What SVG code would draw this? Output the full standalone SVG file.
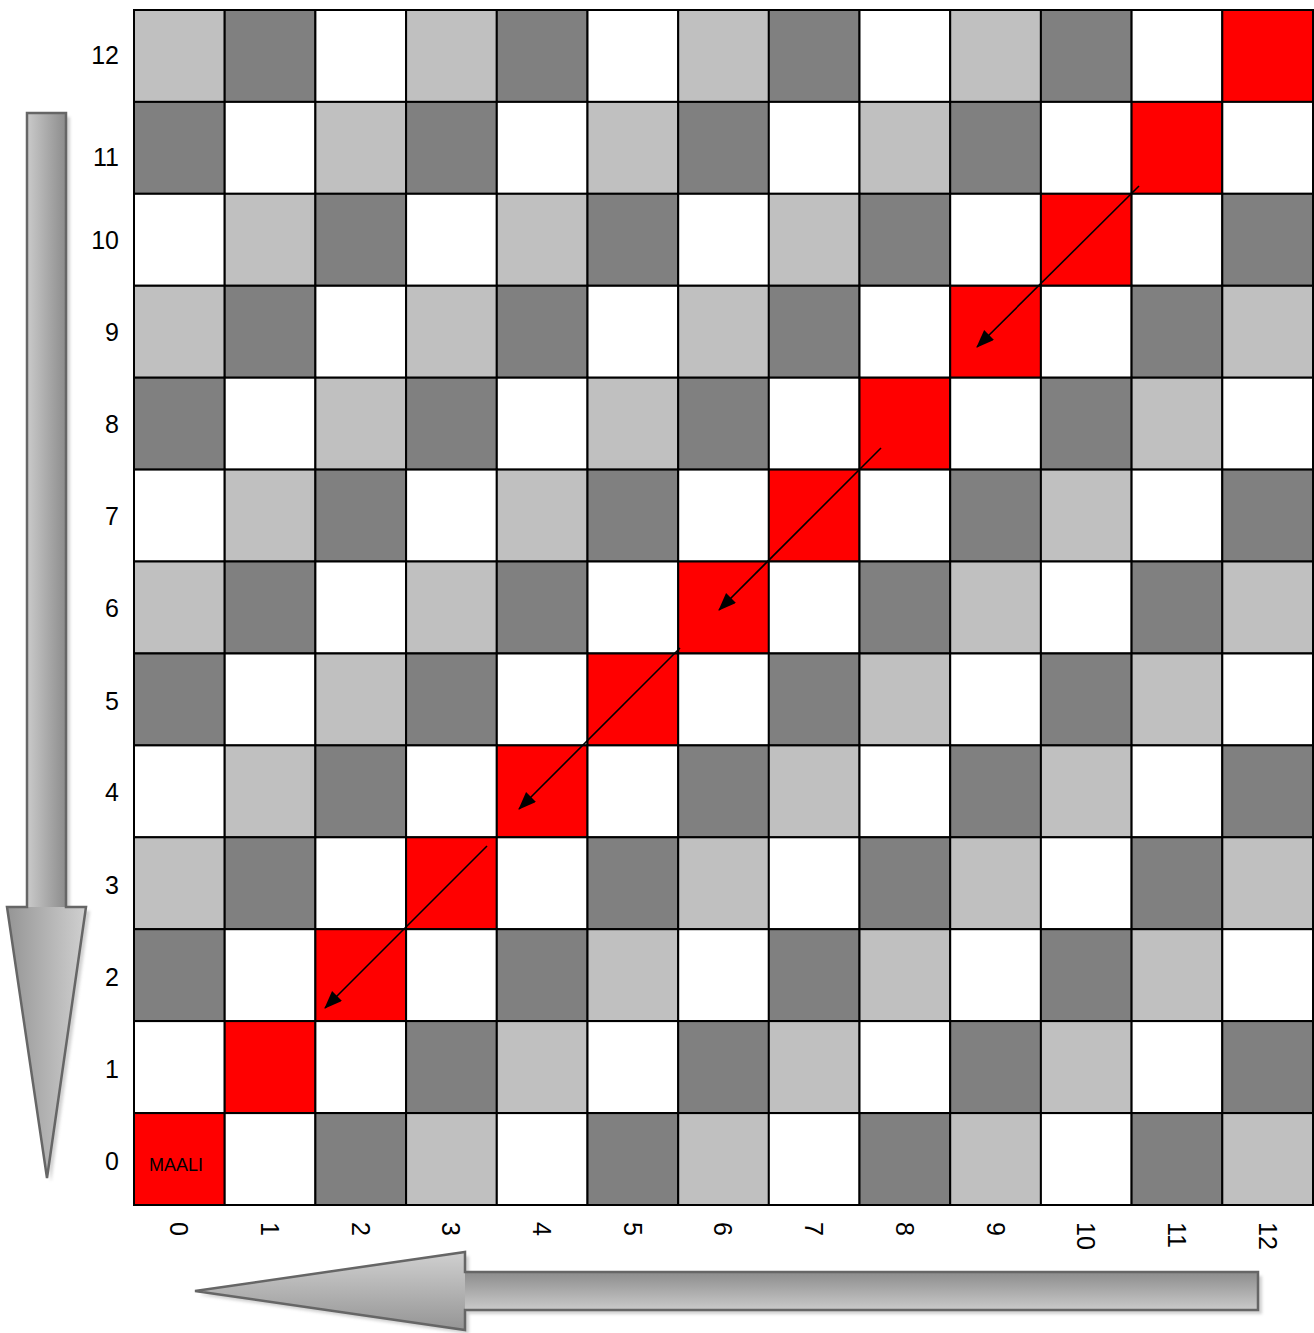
<svg xmlns="http://www.w3.org/2000/svg" width="1314" height="1333" viewBox="0 0 1314 1333">
<style>
.l{fill:#C0C0C0}.d{fill:#808080}.w{fill:#FFFFFF}.r{fill:#FF0000}
.c rect{stroke:#000;stroke-width:2}
.lab{font-family:"Liberation Sans",Arial,sans-serif;font-size:25px;fill:#000}
.conn line{stroke:#000;stroke-width:1.6;marker-end:url(#ah)}
.outline{fill:none;stroke:#666;stroke-width:2.5;stroke-linejoin:miter}
</style>
<defs>
<marker id="ah" markerUnits="userSpaceOnUse" markerWidth="20" markerHeight="16" refX="17" refY="7" orient="auto"><path d="M0,0 L18,7 L0,14 Z" fill="#000"/></marker>
<linearGradient id="vs" x1="0" y1="0" x2="1" y2="0"><stop offset="0" stop-color="#cacaca"/><stop offset="1" stop-color="#8c8c8c"/></linearGradient>
<linearGradient id="vh" x1="0" y1="0" x2="1" y2="0"><stop offset="0" stop-color="#959595"/><stop offset="1" stop-color="#d0d0d0"/></linearGradient>
<linearGradient id="hs" x1="0" y1="0" x2="0" y2="1"><stop offset="0" stop-color="#8c8c8c"/><stop offset="1" stop-color="#cacaca"/></linearGradient>
<linearGradient id="hh" x1="0" y1="0" x2="0" y2="1"><stop offset="0" stop-color="#d0d0d0"/><stop offset="1" stop-color="#959595"/></linearGradient>
<filter id="sh" x="-20%" y="-20%" width="140%" height="140%"><feGaussianBlur stdDeviation="1.5"/></filter>
</defs>
<rect width="1314" height="1333" fill="#fff"/>

<g id="board" class="c">
<g id="cell-12-0"><rect class="l" x="134" y="10" width="90.7" height="91.9"/></g>
<g id="cell-12-1"><rect class="d" x="224.7" y="10" width="90.7" height="91.9"/></g>
<g id="cell-12-2"><rect class="w" x="315.4" y="10" width="90.7" height="91.9"/></g>
<g id="cell-12-3"><rect class="l" x="406.1" y="10" width="90.7" height="91.9"/></g>
<g id="cell-12-4"><rect class="d" x="496.8" y="10" width="90.7" height="91.9"/></g>
<g id="cell-12-5"><rect class="w" x="587.5" y="10" width="90.7" height="91.9"/></g>
<g id="cell-12-6"><rect class="l" x="678.2" y="10" width="90.7" height="91.9"/></g>
<g id="cell-12-7"><rect class="d" x="768.8" y="10" width="90.7" height="91.9"/></g>
<g id="cell-12-8"><rect class="w" x="859.5" y="10" width="90.7" height="91.9"/></g>
<g id="cell-12-9"><rect class="l" x="950.2" y="10" width="90.7" height="91.9"/></g>
<g id="cell-12-10"><rect class="d" x="1040.9" y="10" width="90.7" height="91.9"/></g>
<g id="cell-12-11"><rect class="w" x="1131.6" y="10" width="90.7" height="91.9"/></g>
<g id="cell-12-12"><rect class="r" x="1222.3" y="10" width="90.7" height="91.9"/></g>

<g id="cell-11-0"><rect class="d" x="134" y="101.9" width="90.7" height="91.9"/></g>
<g id="cell-11-1"><rect class="w" x="224.7" y="101.9" width="90.7" height="91.9"/></g>
<g id="cell-11-2"><rect class="l" x="315.4" y="101.9" width="90.7" height="91.9"/></g>
<g id="cell-11-3"><rect class="d" x="406.1" y="101.9" width="90.7" height="91.9"/></g>
<g id="cell-11-4"><rect class="w" x="496.8" y="101.9" width="90.7" height="91.9"/></g>
<g id="cell-11-5"><rect class="l" x="587.5" y="101.9" width="90.7" height="91.9"/></g>
<g id="cell-11-6"><rect class="d" x="678.2" y="101.9" width="90.7" height="91.9"/></g>
<g id="cell-11-7"><rect class="w" x="768.8" y="101.9" width="90.7" height="91.9"/></g>
<g id="cell-11-8"><rect class="l" x="859.5" y="101.9" width="90.7" height="91.9"/></g>
<g id="cell-11-9"><rect class="d" x="950.2" y="101.9" width="90.7" height="91.9"/></g>
<g id="cell-11-10"><rect class="w" x="1040.9" y="101.9" width="90.7" height="91.9"/></g>
<g id="cell-11-11"><rect class="r" x="1131.6" y="101.9" width="90.7" height="91.9"/></g>
<g id="cell-11-12"><rect class="w" x="1222.3" y="101.9" width="90.7" height="91.9"/></g>

<g id="cell-10-0"><rect class="w" x="134" y="193.8" width="90.7" height="91.9"/></g>
<g id="cell-10-1"><rect class="l" x="224.7" y="193.8" width="90.7" height="91.9"/></g>
<g id="cell-10-2"><rect class="d" x="315.4" y="193.8" width="90.7" height="91.9"/></g>
<g id="cell-10-3"><rect class="w" x="406.1" y="193.8" width="90.7" height="91.9"/></g>
<g id="cell-10-4"><rect class="l" x="496.8" y="193.8" width="90.7" height="91.9"/></g>
<g id="cell-10-5"><rect class="d" x="587.5" y="193.8" width="90.7" height="91.9"/></g>
<g id="cell-10-6"><rect class="w" x="678.2" y="193.8" width="90.7" height="91.9"/></g>
<g id="cell-10-7"><rect class="l" x="768.8" y="193.8" width="90.7" height="91.9"/></g>
<g id="cell-10-8"><rect class="d" x="859.5" y="193.8" width="90.7" height="91.9"/></g>
<g id="cell-10-9"><rect class="w" x="950.2" y="193.8" width="90.7" height="91.9"/></g>
<g id="cell-10-10"><rect class="r" x="1040.9" y="193.8" width="90.7" height="91.9"/></g>
<g id="cell-10-11"><rect class="w" x="1131.6" y="193.8" width="90.7" height="91.9"/></g>
<g id="cell-10-12"><rect class="d" x="1222.3" y="193.8" width="90.7" height="91.9"/></g>

<g id="cell-9-0"><rect class="l" x="134" y="285.8" width="90.7" height="91.9"/></g>
<g id="cell-9-1"><rect class="d" x="224.7" y="285.8" width="90.7" height="91.9"/></g>
<g id="cell-9-2"><rect class="w" x="315.4" y="285.8" width="90.7" height="91.9"/></g>
<g id="cell-9-3"><rect class="l" x="406.1" y="285.8" width="90.7" height="91.9"/></g>
<g id="cell-9-4"><rect class="d" x="496.8" y="285.8" width="90.7" height="91.9"/></g>
<g id="cell-9-5"><rect class="w" x="587.5" y="285.8" width="90.7" height="91.9"/></g>
<g id="cell-9-6"><rect class="l" x="678.2" y="285.8" width="90.7" height="91.9"/></g>
<g id="cell-9-7"><rect class="d" x="768.8" y="285.8" width="90.7" height="91.9"/></g>
<g id="cell-9-8"><rect class="w" x="859.5" y="285.8" width="90.7" height="91.9"/></g>
<g id="cell-9-9"><rect class="r" x="950.2" y="285.8" width="90.7" height="91.9"/></g>
<g id="cell-9-10"><rect class="w" x="1040.9" y="285.8" width="90.7" height="91.9"/></g>
<g id="cell-9-11"><rect class="d" x="1131.6" y="285.8" width="90.7" height="91.9"/></g>
<g id="cell-9-12"><rect class="l" x="1222.3" y="285.8" width="90.7" height="91.9"/></g>

<g id="cell-8-0"><rect class="d" x="134" y="377.7" width="90.7" height="91.9"/></g>
<g id="cell-8-1"><rect class="w" x="224.7" y="377.7" width="90.7" height="91.9"/></g>
<g id="cell-8-2"><rect class="l" x="315.4" y="377.7" width="90.7" height="91.9"/></g>
<g id="cell-8-3"><rect class="d" x="406.1" y="377.7" width="90.7" height="91.9"/></g>
<g id="cell-8-4"><rect class="w" x="496.8" y="377.7" width="90.7" height="91.9"/></g>
<g id="cell-8-5"><rect class="l" x="587.5" y="377.7" width="90.7" height="91.9"/></g>
<g id="cell-8-6"><rect class="d" x="678.2" y="377.7" width="90.7" height="91.9"/></g>
<g id="cell-8-7"><rect class="w" x="768.8" y="377.7" width="90.7" height="91.9"/></g>
<g id="cell-8-8"><rect class="r" x="859.5" y="377.7" width="90.7" height="91.9"/></g>
<g id="cell-8-9"><rect class="w" x="950.2" y="377.7" width="90.7" height="91.9"/></g>
<g id="cell-8-10"><rect class="d" x="1040.9" y="377.7" width="90.7" height="91.9"/></g>
<g id="cell-8-11"><rect class="l" x="1131.6" y="377.7" width="90.7" height="91.9"/></g>
<g id="cell-8-12"><rect class="w" x="1222.3" y="377.7" width="90.7" height="91.9"/></g>

<g id="cell-7-0"><rect class="w" x="134" y="469.6" width="90.7" height="91.9"/></g>
<g id="cell-7-1"><rect class="l" x="224.7" y="469.6" width="90.7" height="91.9"/></g>
<g id="cell-7-2"><rect class="d" x="315.4" y="469.6" width="90.7" height="91.9"/></g>
<g id="cell-7-3"><rect class="w" x="406.1" y="469.6" width="90.7" height="91.9"/></g>
<g id="cell-7-4"><rect class="l" x="496.8" y="469.6" width="90.7" height="91.9"/></g>
<g id="cell-7-5"><rect class="d" x="587.5" y="469.6" width="90.7" height="91.9"/></g>
<g id="cell-7-6"><rect class="w" x="678.2" y="469.6" width="90.7" height="91.9"/></g>
<g id="cell-7-7"><rect class="r" x="768.8" y="469.6" width="90.7" height="91.9"/></g>
<g id="cell-7-8"><rect class="w" x="859.5" y="469.6" width="90.7" height="91.9"/></g>
<g id="cell-7-9"><rect class="d" x="950.2" y="469.6" width="90.7" height="91.9"/></g>
<g id="cell-7-10"><rect class="l" x="1040.9" y="469.6" width="90.7" height="91.9"/></g>
<g id="cell-7-11"><rect class="w" x="1131.6" y="469.6" width="90.7" height="91.9"/></g>
<g id="cell-7-12"><rect class="d" x="1222.3" y="469.6" width="90.7" height="91.9"/></g>

<g id="cell-6-0"><rect class="l" x="134" y="561.5" width="90.7" height="91.9"/></g>
<g id="cell-6-1"><rect class="d" x="224.7" y="561.5" width="90.7" height="91.9"/></g>
<g id="cell-6-2"><rect class="w" x="315.4" y="561.5" width="90.7" height="91.9"/></g>
<g id="cell-6-3"><rect class="l" x="406.1" y="561.5" width="90.7" height="91.9"/></g>
<g id="cell-6-4"><rect class="d" x="496.8" y="561.5" width="90.7" height="91.9"/></g>
<g id="cell-6-5"><rect class="w" x="587.5" y="561.5" width="90.7" height="91.9"/></g>
<g id="cell-6-6"><rect class="r" x="678.2" y="561.5" width="90.7" height="91.9"/></g>
<g id="cell-6-7"><rect class="w" x="768.8" y="561.5" width="90.7" height="91.9"/></g>
<g id="cell-6-8"><rect class="d" x="859.5" y="561.5" width="90.7" height="91.9"/></g>
<g id="cell-6-9"><rect class="l" x="950.2" y="561.5" width="90.7" height="91.9"/></g>
<g id="cell-6-10"><rect class="w" x="1040.9" y="561.5" width="90.7" height="91.9"/></g>
<g id="cell-6-11"><rect class="d" x="1131.6" y="561.5" width="90.7" height="91.9"/></g>
<g id="cell-6-12"><rect class="l" x="1222.3" y="561.5" width="90.7" height="91.9"/></g>

<g id="cell-5-0"><rect class="d" x="134" y="653.5" width="90.7" height="91.9"/></g>
<g id="cell-5-1"><rect class="w" x="224.7" y="653.5" width="90.7" height="91.9"/></g>
<g id="cell-5-2"><rect class="l" x="315.4" y="653.5" width="90.7" height="91.9"/></g>
<g id="cell-5-3"><rect class="d" x="406.1" y="653.5" width="90.7" height="91.9"/></g>
<g id="cell-5-4"><rect class="w" x="496.8" y="653.5" width="90.7" height="91.9"/></g>
<g id="cell-5-5"><rect class="r" x="587.5" y="653.5" width="90.7" height="91.9"/></g>
<g id="cell-5-6"><rect class="w" x="678.2" y="653.5" width="90.7" height="91.9"/></g>
<g id="cell-5-7"><rect class="d" x="768.8" y="653.5" width="90.7" height="91.9"/></g>
<g id="cell-5-8"><rect class="l" x="859.5" y="653.5" width="90.7" height="91.9"/></g>
<g id="cell-5-9"><rect class="w" x="950.2" y="653.5" width="90.7" height="91.9"/></g>
<g id="cell-5-10"><rect class="d" x="1040.9" y="653.5" width="90.7" height="91.9"/></g>
<g id="cell-5-11"><rect class="l" x="1131.6" y="653.5" width="90.7" height="91.9"/></g>
<g id="cell-5-12"><rect class="w" x="1222.3" y="653.5" width="90.7" height="91.9"/></g>

<g id="cell-4-0"><rect class="w" x="134" y="745.4" width="90.7" height="91.9"/></g>
<g id="cell-4-1"><rect class="l" x="224.7" y="745.4" width="90.7" height="91.9"/></g>
<g id="cell-4-2"><rect class="d" x="315.4" y="745.4" width="90.7" height="91.9"/></g>
<g id="cell-4-3"><rect class="w" x="406.1" y="745.4" width="90.7" height="91.9"/></g>
<g id="cell-4-4"><rect class="r" x="496.8" y="745.4" width="90.7" height="91.9"/></g>
<g id="cell-4-5"><rect class="w" x="587.5" y="745.4" width="90.7" height="91.9"/></g>
<g id="cell-4-6"><rect class="d" x="678.2" y="745.4" width="90.7" height="91.9"/></g>
<g id="cell-4-7"><rect class="l" x="768.8" y="745.4" width="90.7" height="91.9"/></g>
<g id="cell-4-8"><rect class="w" x="859.5" y="745.4" width="90.7" height="91.9"/></g>
<g id="cell-4-9"><rect class="d" x="950.2" y="745.4" width="90.7" height="91.9"/></g>
<g id="cell-4-10"><rect class="l" x="1040.9" y="745.4" width="90.7" height="91.9"/></g>
<g id="cell-4-11"><rect class="w" x="1131.6" y="745.4" width="90.7" height="91.9"/></g>
<g id="cell-4-12"><rect class="d" x="1222.3" y="745.4" width="90.7" height="91.9"/></g>

<g id="cell-3-0"><rect class="l" x="134" y="837.3" width="90.7" height="91.9"/></g>
<g id="cell-3-1"><rect class="d" x="224.7" y="837.3" width="90.7" height="91.9"/></g>
<g id="cell-3-2"><rect class="w" x="315.4" y="837.3" width="90.7" height="91.9"/></g>
<g id="cell-3-3"><rect class="r" x="406.1" y="837.3" width="90.7" height="91.9"/></g>
<g id="cell-3-4"><rect class="w" x="496.8" y="837.3" width="90.7" height="91.9"/></g>
<g id="cell-3-5"><rect class="d" x="587.5" y="837.3" width="90.7" height="91.9"/></g>
<g id="cell-3-6"><rect class="l" x="678.2" y="837.3" width="90.7" height="91.9"/></g>
<g id="cell-3-7"><rect class="w" x="768.8" y="837.3" width="90.7" height="91.9"/></g>
<g id="cell-3-8"><rect class="d" x="859.5" y="837.3" width="90.7" height="91.9"/></g>
<g id="cell-3-9"><rect class="l" x="950.2" y="837.3" width="90.7" height="91.9"/></g>
<g id="cell-3-10"><rect class="w" x="1040.9" y="837.3" width="90.7" height="91.9"/></g>
<g id="cell-3-11"><rect class="d" x="1131.6" y="837.3" width="90.7" height="91.9"/></g>
<g id="cell-3-12"><rect class="l" x="1222.3" y="837.3" width="90.7" height="91.9"/></g>

<g id="cell-2-0"><rect class="d" x="134" y="929.2" width="90.7" height="91.9"/></g>
<g id="cell-2-1"><rect class="w" x="224.7" y="929.2" width="90.7" height="91.9"/></g>
<g id="cell-2-2"><rect class="r" x="315.4" y="929.2" width="90.7" height="91.9"/></g>
<g id="cell-2-3"><rect class="w" x="406.1" y="929.2" width="90.7" height="91.9"/></g>
<g id="cell-2-4"><rect class="d" x="496.8" y="929.2" width="90.7" height="91.9"/></g>
<g id="cell-2-5"><rect class="l" x="587.5" y="929.2" width="90.7" height="91.9"/></g>
<g id="cell-2-6"><rect class="w" x="678.2" y="929.2" width="90.7" height="91.9"/></g>
<g id="cell-2-7"><rect class="d" x="768.8" y="929.2" width="90.7" height="91.9"/></g>
<g id="cell-2-8"><rect class="l" x="859.5" y="929.2" width="90.7" height="91.9"/></g>
<g id="cell-2-9"><rect class="w" x="950.2" y="929.2" width="90.7" height="91.9"/></g>
<g id="cell-2-10"><rect class="d" x="1040.9" y="929.2" width="90.7" height="91.9"/></g>
<g id="cell-2-11"><rect class="l" x="1131.6" y="929.2" width="90.7" height="91.9"/></g>
<g id="cell-2-12"><rect class="w" x="1222.3" y="929.2" width="90.7" height="91.9"/></g>

<g id="cell-1-0"><rect class="w" x="134" y="1021.1" width="90.7" height="91.9"/></g>
<g id="cell-1-1"><rect class="r" x="224.7" y="1021.1" width="90.7" height="91.9"/></g>
<g id="cell-1-2"><rect class="w" x="315.4" y="1021.1" width="90.7" height="91.9"/></g>
<g id="cell-1-3"><rect class="d" x="406.1" y="1021.1" width="90.7" height="91.9"/></g>
<g id="cell-1-4"><rect class="l" x="496.8" y="1021.1" width="90.7" height="91.9"/></g>
<g id="cell-1-5"><rect class="w" x="587.5" y="1021.1" width="90.7" height="91.9"/></g>
<g id="cell-1-6"><rect class="d" x="678.2" y="1021.1" width="90.7" height="91.9"/></g>
<g id="cell-1-7"><rect class="l" x="768.8" y="1021.1" width="90.7" height="91.9"/></g>
<g id="cell-1-8"><rect class="w" x="859.5" y="1021.1" width="90.7" height="91.9"/></g>
<g id="cell-1-9"><rect class="d" x="950.2" y="1021.1" width="90.7" height="91.9"/></g>
<g id="cell-1-10"><rect class="l" x="1040.9" y="1021.1" width="90.7" height="91.9"/></g>
<g id="cell-1-11"><rect class="w" x="1131.6" y="1021.1" width="90.7" height="91.9"/></g>
<g id="cell-1-12"><rect class="d" x="1222.3" y="1021.1" width="90.7" height="91.9"/></g>

<g id="cell-0-0"><rect class="r" x="134" y="1113.1" width="90.7" height="91.9"/><text x="149" y="1171" font-family="'Liberation Sans',Arial,sans-serif" font-size="18" fill="#000">MAALI</text></g>
<g id="cell-0-1"><rect class="w" x="224.7" y="1113.1" width="90.7" height="91.9"/></g>
<g id="cell-0-2"><rect class="d" x="315.4" y="1113.1" width="90.7" height="91.9"/></g>
<g id="cell-0-3"><rect class="l" x="406.1" y="1113.1" width="90.7" height="91.9"/></g>
<g id="cell-0-4"><rect class="w" x="496.8" y="1113.1" width="90.7" height="91.9"/></g>
<g id="cell-0-5"><rect class="d" x="587.5" y="1113.1" width="90.7" height="91.9"/></g>
<g id="cell-0-6"><rect class="l" x="678.2" y="1113.1" width="90.7" height="91.9"/></g>
<g id="cell-0-7"><rect class="w" x="768.8" y="1113.1" width="90.7" height="91.9"/></g>
<g id="cell-0-8"><rect class="d" x="859.5" y="1113.1" width="90.7" height="91.9"/></g>
<g id="cell-0-9"><rect class="l" x="950.2" y="1113.1" width="90.7" height="91.9"/></g>
<g id="cell-0-10"><rect class="w" x="1040.9" y="1113.1" width="90.7" height="91.9"/></g>
<g id="cell-0-11"><rect class="d" x="1131.6" y="1113.1" width="90.7" height="91.9"/></g>
<g id="cell-0-12"><rect class="l" x="1222.3" y="1113.1" width="90.7" height="91.9"/></g>
</g>

<g id="row-labels" class="lab" text-anchor="end">
<text x="119" y="64">12</text>
<text x="119" y="166">11</text>
<text x="119" y="249">10</text>
<text x="119" y="341">9</text>
<text x="119" y="433">8</text>
<text x="119" y="525">7</text>
<text x="119" y="617">6</text>
<text x="119" y="710">5</text>
<text x="119" y="801">4</text>
<text x="119" y="894">3</text>
<text x="119" y="986">2</text>
<text x="119" y="1078">1</text>
<text x="119" y="1170">0</text>
</g>

<g id="col-labels" class="lab">
<text transform="translate(170,1222) rotate(90)">0</text>
<text transform="translate(261,1222) rotate(90)">1</text>
<text transform="translate(351.5,1222) rotate(90)">2</text>
<text transform="translate(442,1222) rotate(90)">3</text>
<text transform="translate(533,1222) rotate(90)">4</text>
<text transform="translate(623.5,1222) rotate(90)">5</text>
<text transform="translate(714,1222) rotate(90)">6</text>
<text transform="translate(805,1222) rotate(90)">7</text>
<text transform="translate(895.5,1222) rotate(90)">8</text>
<text transform="translate(986.5,1222) rotate(90)">9</text>
<text transform="translate(1077,1222) rotate(90)">10</text>
<text transform="translate(1168,1222) rotate(90)">11</text>
<text transform="translate(1258.5,1222) rotate(90)">12</text>
</g>

<g id="connectors" class="conn">
<line x1="1139" y1="186" x2="977" y2="347"/>
<line x1="881" y1="448" x2="719" y2="610"/>
<line x1="680" y1="648" x2="519" y2="809"/>
<line x1="487" y1="846" x2="325" y2="1008"/>
</g>

<g id="down-arrow">
<polygon points="31,117 70,117 70,911 90,911 51,1182 11,911 31,911" fill="#999" opacity="0.45" filter="url(#sh)"/>
<rect x="27" y="113" width="39" height="795" fill="url(#vs)"/>
<polygon points="7,907 86,907 47,1178" fill="url(#vh)"/>
<polygon class="outline" points="27,113 66,113 66,907 86,907 47,1178 7,907 27,907"/>
</g>

<g id="left-arrow">
<polygon points="1262,1276 1262,1314 469,1314 469,1334 199,1295 469,1256 469,1276" fill="#999" opacity="0.45" filter="url(#sh)"/>
<rect x="464" y="1272" width="794" height="38" fill="url(#hs)"/>
<polygon points="465,1252 465,1330 195,1291" fill="url(#hh)"/>
<polygon class="outline" points="1258,1272 1258,1310 465,1310 465,1330 195,1291 465,1252 465,1272"/>
</g>
</svg>
